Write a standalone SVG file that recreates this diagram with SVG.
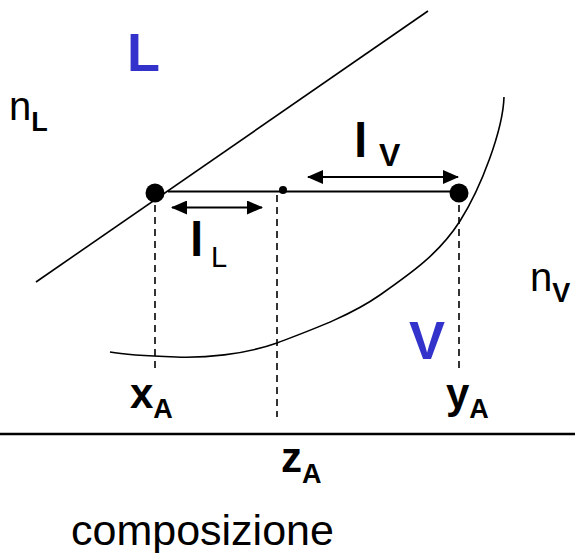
<svg xmlns="http://www.w3.org/2000/svg" width="575" height="553" viewBox="0 0 575 553">
<style>
.ln{fill:none;stroke:#000;stroke-width:1.6}
.dash{fill:none;stroke:#000;stroke-width:1.6;stroke-dasharray:7,5}
.t{font-family:"Liberation Sans",Arial,sans-serif;fill:#000}
.b{font-weight:bold}
.blue{fill:#3333CC;font-weight:bold}
</style>
<defs>
<marker id="ah" viewBox="0 0 16 14" refX="15" refY="7" markerWidth="16" markerHeight="14" markerUnits="userSpaceOnUse" orient="auto-start-reverse">
<path d="M0,0 L16,7 L0,14 Z" fill="#000"/>
</marker>
</defs>
<rect width="575" height="553" fill="#fff"/>
<g id="curves">
<path class="ln" d="M36,282 L428,11"/>
<path class="ln" d="M504,97 C503,130 481,188 460,221 C439,254 410,274 380,295 C350,316 311,330 277,343 C243,355 204,358 176,357 C148,356 121,354 110,352"/>
</g>
<g id="connectors">
<line class="dash" x1="155" y1="205" x2="155" y2="368"/>
<line class="dash" x1="277" y1="195" x2="277" y2="417"/>
<line class="dash" x1="459" y1="205" x2="459" y2="368"/>
<line x1="168" y1="191.5" x2="455" y2="191.5" stroke="#000" stroke-width="2.2"/>
<line x1="172" y1="207.5" x2="262" y2="207.5" stroke="#000" stroke-width="2" marker-start="url(#ah)" marker-end="url(#ah)"/>
<line x1="308" y1="177" x2="458" y2="177" stroke="#000" stroke-width="2" marker-start="url(#ah)" marker-end="url(#ah)"/>
<line x1="0" y1="434" x2="575" y2="434" stroke="#000" stroke-width="2.6"/>
</g>
<g id="point-x">
<circle cx="155" cy="193" r="9.5" fill="#000"/>
</g>
<g id="point-z">
<circle cx="283" cy="190" r="4" fill="#000"/>
</g>
<g id="point-y">
<circle cx="459" cy="193" r="9.5" fill="#000"/>
</g>
<g id="labels">
<text class="t blue" x="127" y="70.5" font-size="54">L</text>
<text class="t blue" x="409" y="358.5" font-size="54">V</text>
<text class="t" x="9" y="120" font-size="40">n<tspan class="b" font-size="27" dy="11">L</tspan></text>
<text class="t" x="530" y="291" font-size="40">n<tspan class="b" font-size="27" dy="10.5">V</tspan></text>
<text class="t b" x="190" y="256" font-size="48">l</text>
<text class="t" x="211" y="266.5" font-size="29">L</text>
<text class="t b" x="354" y="156.5" font-size="48">l</text>
<text class="t b" x="379" y="166" font-size="32">V</text>
<text class="t b" x="130" y="408" font-size="42">x<tspan font-size="27" dy="10">A</tspan></text>
<text class="t b" x="446" y="408" font-size="42">y<tspan font-size="27" dy="10">A</tspan></text>
<text class="t b" x="281" y="472" font-size="42">z<tspan font-size="27" dy="11">A</tspan></text>
<text class="t" x="71" y="545" font-size="43">composizione</text>
</g>
</svg>
